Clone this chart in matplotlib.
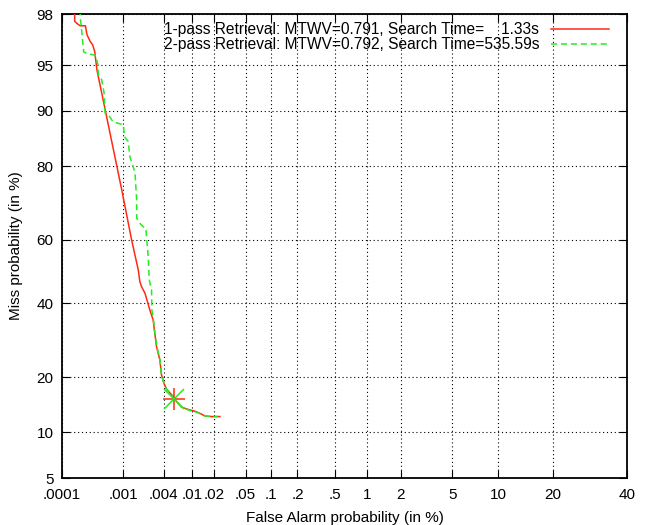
import numpy as np
import matplotlib
matplotlib.use("Agg")
import matplotlib.pyplot as plt
from matplotlib.ticker import FixedLocator, FixedFormatter, NullLocator
from statistics import NormalDist

plt.rcParams['font.family'] = ['Liberation Sans', 'DejaVu Sans']

# ---- data (False alarm %, Miss %) ----
red_fa = [0.000164, 0.000164, 0.000180, 0.000202, 0.000247, 0.000263, 0.000297,
          0.000325, 0.000351, 0.000382, 0.000944, 0.00134, 0.00169, 0.00179,
          0.00190, 0.00213, 0.00252, 0.00282, 0.00298, 0.00316, 0.00353, 0.00374,
          0.00404, 0.00442, 0.00524, 0.00614, 0.00721, 0.00942, 0.0110, 0.0128,
          0.0150, 0.0184, 0.0236]
red_miss = [98.5, 97.7, 97.6, 97.5, 97.5, 97.05, 96.67, 96.47, 96.04, 94.6, 74.3,
            60.0, 50.6, 46.8, 45.2, 43.2, 38.0, 35.0, 31.2, 27.5, 24.1, 20.5, 18.7,
            17.4, 16.3, 15.0, 14.0, 13.5, 13.3, 12.95, 12.5, 12.4, 12.4]

green_fa = [0.000197, 0.000205, 0.000218, 0.000232, 0.000263, 0.000338, 0.000368,
            0.000397, 0.000401, 0.000455, 0.000497, 0.000515, 0.000617, 0.000688,
            0.001, 0.00104, 0.00119, 0.00126, 0.00142, 0.00151, 0.00160, 0.00160,
            0.00179, 0.00201, 0.00220, 0.00226, 0.00238, 0.00247, 0.00267, 0.00270,
            0.00285, 0.00300, 0.00320, 0.00355, 0.00370, 0.00400, 0.00440, 0.00520,
            0.00610, 0.00720, 0.0094, 0.0110, 0.0128, 0.0150, 0.0184, 0.0222]
green_miss = [98.5, 97.8, 97.05, 96.0, 95.9, 95.8, 95.7, 95.0, 94.2, 93.7, 92.3,
              89.7, 89.1, 88.4, 87.9, 85.9, 85.0, 82.0, 79.8, 78.5, 71.6, 66.5,
              65.0, 64.0, 63.5, 60.5, 54.8, 47.4, 44.2, 38.0, 35.0, 31.0, 27.5,
              24.0, 20.8, 18.9, 17.5, 16.4, 15.1, 14.0, 13.4, 13.2, 12.9, 12.5,
              12.4, 12.4]

opt_fa = [0.00569]
opt_miss = [15.46]

labels = ["1-pass Retrieval: MTWV=0.791, Search Time=    1.33s",
          "2-pass Retrieval: MTWV=0.792, Search Time=535.59s"]

x_ticks = [0.0001, 0.001, 0.004, 0.01, 0.02, 0.05, 0.1, 0.2, 0.5, 1, 2, 5, 10, 20, 40]
x_ticklabels = [".0001", ".001", ".004", ".01", ".02", ".05", ".1", ".2", ".5",
                "1", "2", "5", "10", "20", "40"]
y_ticks = [5, 10, 20, 40, 60, 80, 90, 95, 98]
y_ticklabels = ["5", "10", "20", "40", "60", "80", "90", "95", "98"]

# ---- normal deviate scale ----
_nd = NormalDist()
_ppf = np.vectorize(_nd.inv_cdf, otypes=[float])
_cdf = np.vectorize(_nd.cdf, otypes=[float])


def fwd(p):
    q = np.asarray(p, dtype=float) / 100.0
    q = np.where(np.isfinite(q), q, 0.5)
    q = np.clip(q, 1e-12, 1 - 1e-12)
    return _ppf(q)


def inv(z):
    z = np.asarray(z, dtype=float)
    z = np.where(np.isfinite(z), z, 0.0)
    return _cdf(z) * 100.0


W, H = 646, 525
FS = 11
fig = plt.figure(figsize=(W / 100, H / 100), dpi=100)
ax = fig.add_axes([62 / W, 1 - 478 / H, (627 - 62) / W, (478 - 14) / H])
ax.set_xscale('function', functions=(fwd, inv))
ax.set_yscale('function', functions=(fwd, inv))
ax.set_xlim(0.0001, 40)
ax.set_ylim(5, 98)

red = '#ff2a14'
green = '#22ee22'
ax.plot(red_fa, red_miss, color=red, lw=1.1, label=labels[0], zorder=3)
ax.plot(green_fa, green_miss, color=green, lw=1.1, ls=(0, (4, 2.5)), label=labels[1], zorder=4)
ax.plot(opt_fa, opt_miss, ls='none', marker='+', ms=16, mew=1.1, color=red, zorder=5)
ax.plot(opt_fa, opt_miss, ls='none', marker='x', ms=14, mew=1.1, color=green, zorder=6)

ax.xaxis.set_major_locator(FixedLocator(x_ticks))
ax.xaxis.set_major_formatter(FixedFormatter(x_ticklabels))
ax.yaxis.set_major_locator(FixedLocator(y_ticks))
ax.yaxis.set_major_formatter(FixedFormatter(y_ticklabels))
ax.xaxis.set_minor_locator(NullLocator())
ax.yaxis.set_minor_locator(NullLocator())

ax.tick_params(direction='in', top=True, right=True, length=6, width=0.8,
               labelsize=FS)
ax.tick_params(axis='x', pad=7)
ax.tick_params(axis='y', pad=6)
ax.grid(True, color='black', ls=(0, (1, 2.5)), lw=0.8)
for s in ax.spines.values():
    s.set_linewidth(1.3)

ax.set_xlabel("False Alarm probability (in %)", fontsize=FS, labelpad=7)
ax.set_ylabel("Miss probability (in %)", fontsize=FS, labelpad=10)

leg = ax.legend(loc='upper right', bbox_to_anchor=(609 / W, 1 - 22 / H),
                bbox_transform=fig.transFigure, frameon=False, markerfirst=False,
                fontsize=11.2, handlelength=3.7, handletextpad=0.8,
                borderpad=0, borderaxespad=0, labelspacing=0.0)

fig.savefig("out.png", dpi=100)
